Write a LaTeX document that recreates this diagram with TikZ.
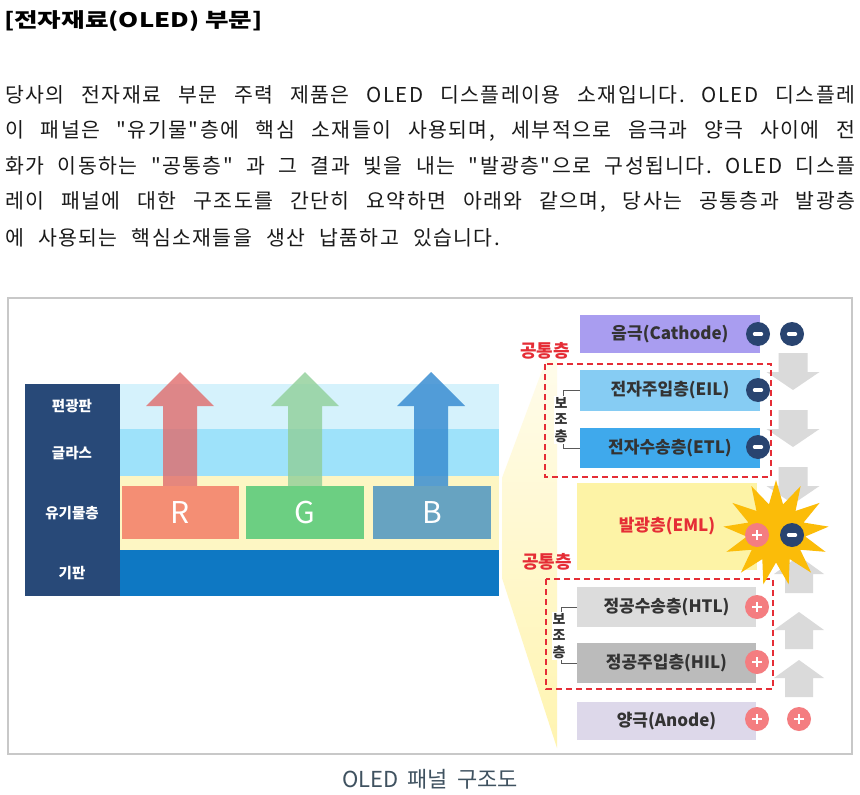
\documentclass[tikz,border=0pt]{standalone}
\usepackage{fontspec}
\setmainfont{Noto Sans CJK KR}
\newfontfamily\bodyf{Noto Sans CJK KR}[LetterSpace=7]
\usetikzlibrary{shapes.geometric}
\definecolor{navy}{HTML}{284978}
\definecolor{bandA}{HTML}{D5F2FC}
\definecolor{bandB}{HTML}{9EE2FA}
\definecolor{bandC}{HTML}{FDF6C3}
\definecolor{bandD}{HTML}{0E78C3}
\definecolor{rbox}{HTML}{F48E74}
\definecolor{gbox}{HTML}{6CCF82}
\definecolor{bbox}{HTML}{67A3C1}
\definecolor{rarr}{HTML}{E06C6C}
\definecolor{garr}{HTML}{8FCF98}
\definecolor{barr}{HTML}{3A8ED2}
\definecolor{cath}{HTML}{A99DF0}
\definecolor{eil}{HTML}{86CCF3}
\definecolor{etl}{HTML}{3FA9EC}
\definecolor{eml}{HTML}{FDF3A6}
\definecolor{htl}{HTML}{DCDCDC}
\definecolor{hil}{HTML}{BBBBBB}
\definecolor{anode}{HTML}{DDD8EA}
\definecolor{mcirc}{HTML}{294470}
\definecolor{pcirc}{HTML}{F47D80}
\definecolor{redlab}{HTML}{E52D36}
\definecolor{darktxt}{HTML}{333333}
\definecolor{grayarr}{HTML}{DADADA}
\definecolor{starc}{HTML}{FBBC09}
\definecolor{framec}{HTML}{C8C8C8}
\definecolor{capc}{HTML}{3F5260}
\definecolor{bodyc}{HTML}{1A1A1A}
\definecolor{fantop}{HTML}{FFFCEB}
\definecolor{fanmid}{HTML}{FCEA8E}
\definecolor{fanbot}{HTML}{FFF4B0}
\newcommand{\jline}[1]{{\bodyf\frenchspacing\spaceskip=9pt plus 40pt\relax\makebox[850pt][s]{#1}}}
\newcommand{\nline}[1]{{\bodyf\frenchspacing\spaceskip=14pt\relax #1}}
\newcommand{\capline}[1]{{\frenchspacing\spaceskip=9pt\relax #1}}
\begin{document}
\begin{tikzpicture}[x=1pt,y=-1pt,
  lay/.style={rectangle, inner sep=0pt, outer sep=0pt, text=darktxt,
    font=\fontsize{17}{17}\selectfont\bfseries},
  band/.style={rectangle, inner sep=0pt, outer sep=0pt, minimum width=379pt},
  sidelab/.style={text=white, inner sep=0pt, font=\fontsize{14.5}{14.5}\selectfont\bfseries},
  rgb/.style={rectangle, inner sep=0pt, outer sep=0pt, minimum height=53pt, text=white,
    font=\fontsize{30}{30}\selectfont},
  minuscirc/.style={circle, fill=mcirc, minimum size=24pt, inner sep=0pt,
    path picture={\draw[white, line width=3.6pt, line cap=round]
      ([xshift=-3.4pt]path picture bounding box.center) --
      ([xshift=3.4pt]path picture bounding box.center);}},
  pluscirc/.style={circle, fill=pcirc, minimum size=24pt, inner sep=0pt,
    path picture={\draw[white, line width=1.8pt]
      ([xshift=-5pt]path picture bounding box.center) --
      ([xshift=5pt]path picture bounding box.center)
      ([yshift=-5pt]path picture bounding box.center) --
      ([yshift=5pt]path picture bounding box.center);}},
  redbox/.style={draw=redlab, line width=2pt, dash pattern=on 6pt off 4pt},
  redlabel/.style={text=redlab, inner sep=0pt, font=\fontsize{18}{18}\selectfont\bfseries},
  vlab/.style={fill=white, inner sep=1pt, align=center, text=darktxt,
    font=\fontsize{14}{16.5}\selectfont\bfseries},
  brk/.style={draw=black!65, line width=0.8pt},
  garrow/.style={fill=grayarr},
  bodyline/.style={anchor=west, inner sep=0pt, text=bodyc,
    font=\fontsize{20.5}{20.5}\selectfont}
]
\useasboundingbox[fill=white] (0,0) rectangle (860,795);

% ---------- text above ----------
\node[anchor=west, inner sep=0pt, text=black, font=\fontsize{20}{20}\selectfont\bfseries]
  (title) at (4,21) {\scalebox{1.28}[1]{[전자재료(OLED) 부문]}};
\node[bodyline] (l1) at (5,95) {\jline{당사의 전자재료 부문 주력 제품은 OLED 디스플레이용 소재입니다. OLED 디스플레}};
\node[bodyline] (l2) at (5,131) {\jline{이 패널은 "유기물"층에 핵심 소재들이 사용되며, 세부적으로 음극과 양극 사이에 전}};
\node[bodyline] (l3) at (5,166) {\jline{화가 이동하는 "공통층" 과 그 결과 빛을 내는 "발광층"으로 구성됩니다. OLED 디스플}};
\node[bodyline] (l4) at (5,202) {\jline{레이 패널에 대한 구조도를 간단히 요약하면 아래와 같으며, 당사는 공통층과 발광층}};
\node[bodyline] (l5) at (5,238) {\nline{에 사용되는 핵심소재들을 생산 납품하고 있습니다.}};

% ---------- frame ----------
\draw[framec, line width=1.5pt] (8,298) rectangle (852,754);

% ---------- left panel ----------
\node[rectangle, fill=navy, inner sep=0pt, minimum width=95pt, minimum height=212pt] (col) at (72.5,490) {};
\node[band, fill=bandA, minimum height=45pt] (b1) at (309.5,406.5) {};
\node[band, fill=bandB, minimum height=47pt] (b2) at (309.5,452.5) {};
\node[band, fill=bandC, minimum height=74pt] (b3) at (309.5,513) {};
\node[band, fill=bandD, minimum height=46pt] (b4) at (309.5,573) {};
\node[sidelab] (t1) at (72,406) {편광판};
\node[sidelab] (t2) at (72,453) {글라스};
\node[sidelab] (t3) at (72,513) {유기물층};
\node[sidelab] (t4) at (72,573) {기판};

\fill[rarr, opacity=0.8] (163,486) -- (163,406) -- (146,406) -- (180,372) -- (214,406) -- (197,406) -- (197,486) -- cycle;
\fill[garr, opacity=0.8] (288,486) -- (288,406) -- (271,406) -- (305,372) -- (339,406) -- (322,406) -- (322,486) -- cycle;
\fill[barr, opacity=0.85] (414,486) -- (414,406) -- (397,406) -- (431,372) -- (465,406) -- (448,406) -- (448,486) -- cycle;

\node[rgb, fill=rbox, minimum width=117pt] (R) at (180.5,512.5) {R};
\node[rgb, fill=gbox, minimum width=118pt] (G) at (305,512.5) {G};
\node[rgb, fill=bbox, minimum width=118pt] (B) at (432,512.5) {B};

% ---------- fan ----------
\shade[top color=fantop, middle color=fanmid, bottom color=fanbot]
  (502,478) -- (546,360) -- (557,360) -- (557,748) -- (502,578) -- cycle;

% ---------- gray arrows ----------
\foreach \t in {353,410,467}
  \fill[garrow] (778.5,\t) -- (807.5,\t) -- (807.5,\t+19) -- (819.5,\t+19) -- (793,\t+37) -- (766.5,\t+19) -- (778.5,\t+19) -- cycle;
\foreach \b in {593,649,697}
  \fill[garrow] (785,\b) -- (785,\b-19) -- (774,\b-19) -- (799,\b-37) -- (824,\b-19) -- (813,\b-19) -- (813,\b) -- cycle;

% ---------- layer stack ----------
\node[lay, fill=cath, minimum width=180pt, minimum height=38pt] (cat) at (670,334) {음극(Cathode)};
\node[lay, fill=eil, minimum width=180pt, minimum height=41pt] (eilb) at (670,390.5) {전자주입층(EIL)};
\node[lay, fill=etl, minimum width=180pt, minimum height=40pt] (etlb) at (670,448) {전자수송층(ETL)};
\node[lay, fill=eml, minimum width=180pt, minimum height=87pt, text=redlab] (emlb) at (667,526.5) {발광층(EML)};
\node[lay, fill=htl, minimum width=179pt, minimum height=40pt] (htlb) at (666.5,607) {정공수송층(HTL)};
\node[lay, fill=hil, minimum width=179pt, minimum height=40pt] (hilb) at (666.5,663) {정공주입층(HIL)};
\node[lay, fill=anode, minimum width=179pt, minimum height=38pt] (anb) at (666.5,721) {양극(Anode)};

% brackets and vertical labels
\draw[brk] (eilb.west) -- ++(-17,0) |- (etlb.west);
\draw[brk] (htlb.west) -- ++(-16,0) |- (hilb.west);
\node[vlab] (bz1) at (561,420) {보\\조\\층};
\node[vlab] (bz2) at (559,636) {보\\조\\층};

% dashed groups
\draw[redbox] (545,364) rectangle (771,477);
\draw[redbox] (546,579) rectangle (773,689);
\node[redlabel] (ct1) at (545,351) {공통층};
\node[redlabel] (ct2) at (547,562) {공통층};

% star
\node[star, star points=13, star point ratio=1.8, minimum size=106pt, inner sep=0pt, fill=starc] (burst) at (776,533) {};

% charges
\node[minuscirc] (mc1) at (758,334) {};
\node[minuscirc] (mc2) at (792,334) {};
\node[minuscirc] (me1) at (758,390) {};
\node[minuscirc] (me2) at (758,447) {};
\node[minuscirc] (mm) at (792,535) {};
\node[pluscirc] (pm) at (757,535) {};
\node[pluscirc] (ph1) at (757,607) {};
\node[pluscirc] (ph2) at (757,662) {};
\node[pluscirc] (pa1) at (757,719) {};
\node[pluscirc] (pa2) at (799,719) {};

% caption
\node[inner sep=0pt, text=capc, font=\fontsize{22}{22}\selectfont] (cap) at (430,779) {\capline{OLED 패널 구조도}};
\end{tikzpicture}
\end{document}
